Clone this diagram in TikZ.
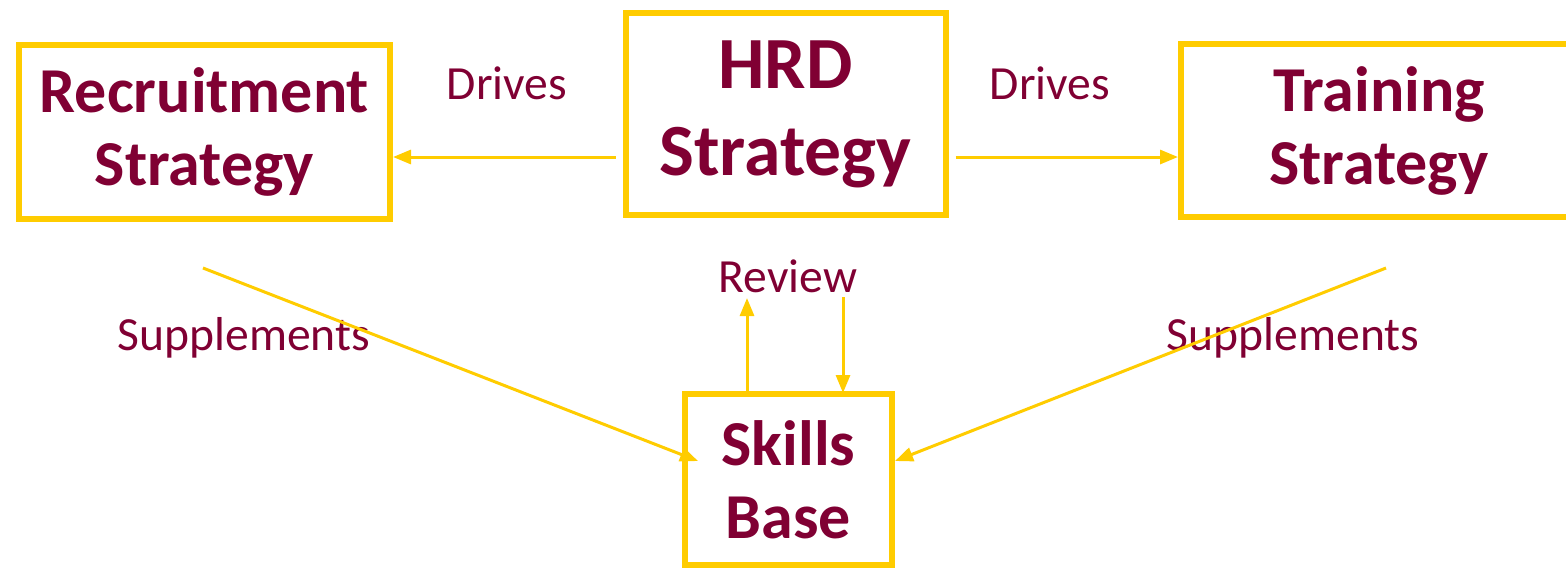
\documentclass[tikz,border=0pt]{standalone}
\usepackage{fontspec}
\setmainfont{Carlito}
\usetikzlibrary{positioning,arrows.meta}
\definecolor{hrdgold}{HTML}{FFCC00}
\definecolor{hrdmaroon}{HTML}{800033}
\tikzset{
	strat/.style={
		rectangle,
		draw=hrdgold, line width=3pt,
		text=hrdmaroon,
		font=\bfseries\fontsize{32}{36.5}\selectfont,
		align=center,
		inner sep=2pt,
	},
	flow/.style={
		draw=hrdgold, line width=1.5pt,
		-{Triangle[length=9pt,width=7pt]},
	},
	lbl/.style={text=hrdmaroon, font=\fontsize{23.8}{28}\selectfont, inner sep=0pt},
}

\begin{document}
\begin{tikzpicture}[x=0.5pt, y=-0.5pt]
\useasboundingbox (0,0) rectangle (1566,569);

\node	(hrd)		[strat, minimum width=160pt, minimum height=101pt, font=\bfseries\fontsize{36.8}{43.5}\selectfont]	at (785.5,114)	{HRD\\Strategy};
\node	(recruit)	[strat, minimum width=185.5pt, minimum height=87pt]	at (204.5,132)	{Recruitment\\Strategy};
\node	(training)	[strat, minimum width=198pt, minimum height=86.5pt]	at (1379,130.5)	{Training\\Strategy};
\node	(skills)	[strat, minimum width=103.5pt, minimum height=85.5pt]	at (788.5,479.5)	{Skills\\Base};

\node	(drivesl)	[lbl]	at (507,83)	{Drives};
\node	(drivesr)	[lbl]	at (1050,83)	{Drives};
\node	(review)	[lbl]	at (788,276)	{Review};
\node	(suppl)		[lbl]	at (244,338)	{Supplements};
\node	(suppr)		[lbl]	at (1293,338)	{Supplements};

\coordinate	(suppstartl)	at (203,268);
\coordinate	(suppstartr)	at (1386,268);
\coordinate	(revup)		at (747,298);
\coordinate	(revdown)	at (843,297);

\draw[flow, shorten <=3.5pt] ([yshift=-21.5pt]hrd.west) -- ([yshift=-12.5pt]recruit.east);
\draw[flow, shorten <=3.5pt] ([yshift=-21.5pt]hrd.east) -- ([yshift=-13.25pt]training.west);
\draw[flow] (suppstartl) -- ([xshift=8pt, yshift=9.25pt]skills.west);
\draw[flow] (suppstartr) -- ([yshift=9.25pt]skills.east);
\draw[flow] ([yshift=-1.5pt]skills.north -| revup) -- (revup);
\draw[flow] (revdown) -- ([yshift=-1pt]skills.north -| revdown);

\end{tikzpicture}
\end{document}
